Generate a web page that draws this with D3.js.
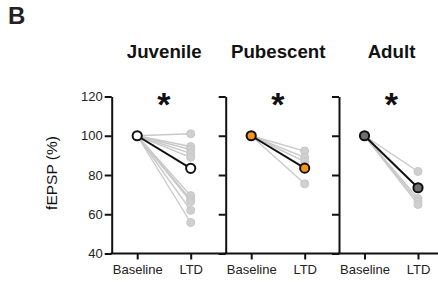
<!DOCTYPE html>
<html>
<head>
<meta charset="utf-8">
<script src="https://cdn.jsdelivr.net/npm/d3@7"></script>
<style>
  html, body { margin: 0; padding: 0; background: #fff; }
  svg { display: block; font-family: "Liberation Sans", Arial, Helvetica, sans-serif; }
</style>
</head>
<body>
<svg id="chart" width="438" height="291"></svg>
<script>
// ---- data ----
const groups = ["Juvenile", "Pubescent", "Adult"];
const conditions = ["Baseline", "LTD"];
const yTicks = [40, 60, 80, 100, 120];
const juvenileLTD = [101, 94.5, 93, 91, 89, 69.5, 67.5, 66.5, 62, 55.8];
const pubescentLTD = [92.2, 89, 86.8, 75.5];
const adultLTD = [81.8, 68, 66.5, 65];
const baselineValues = [100, 100, 100];
const meanLTD = [83.4, 83.5, 73.5];
const significance = ["*", "*", "*"];

const individual = [juvenileLTD, pubescentLTD, adultLTD];
const meanFill = ["#ffffff", "#F7941E", "#707070"];

const svg = d3.select("#chart");

// panel letter
svg.append("text").attr("x", 8).attr("y", 23.5)
  .attr("font-size", 24).attr("font-weight", "bold").attr("fill", "#222").text("B");

const y = d3.scaleLinear().domain([40, 120]).range([253.5, 96.5]);
const panelX = [111.7, 225.7, 339];
const panelW = 114;

// y axis title
svg.append("text")
  .attr("transform", `translate(57,173) rotate(-90)`)
  .attr("text-anchor", "middle").attr("font-size", 15.5).attr("fill", "#111")
  .text("fEPSP (%)");

groups.forEach((g, i) => {
  const x0 = panelX[i];
  const x = d3.scalePoint().domain(conditions).range([x0 + 25.5, x0 + 79]);
  const gp = svg.append("g");

  // title
  gp.append("text").attr("x", x0 + 52.5).attr("y", 58)
    .attr("text-anchor", "middle").attr("font-size", 18.7).attr("font-weight", "bold")
    .attr("fill", "#111").text(g);

  // y axis
  const ya = d3.axisLeft(y).tickValues(yTicks).tickSize(7).tickPadding(2).tickSizeOuter(0);
  if (i > 0) ya.tickFormat("");
  const yg = gp.append("g").attr("transform", `translate(${x0},0)`).call(ya);
  yg.select(".domain").attr("stroke-width", 2).attr("stroke", "#111");
  yg.selectAll(".tick line").attr("stroke-width", 2).attr("stroke", "#111");
  yg.selectAll("text").attr("font-size", 13).attr("fill", "#222")
    .attr("font-family", "'Liberation Sans', Arial, sans-serif");

  // x axis
  const xa = d3.axisBottom(x).tickSize(6).tickPadding(5.5).tickSizeOuter(0);
  const xg = gp.append("g").attr("transform", `translate(0,${y(40)})`).call(xa);
  xg.select(".domain").remove();
  xg.selectAll(".tick line").attr("stroke-width", 2).attr("stroke", "#111");
  xg.selectAll("text").attr("font-size", 13).attr("fill", "#222")
    .attr("font-family", "'Liberation Sans', Arial, sans-serif");
  gp.append("line").attr("x1", x0 - 1).attr("x2", Math.min(x0 + panelW, 440))
    .attr("y1", y(40)).attr("y2", y(40)).attr("stroke", "#111").attr("stroke-width", 2);

  // individual lines
  individual[i].forEach(v => {
    gp.append("line")
      .attr("x1", x("Baseline")).attr("y1", y(baselineValues[i]))
      .attr("x2", x("LTD")).attr("y2", y(v))
      .attr("stroke", "#c9c9c9").attr("stroke-width", 1.4);
  });
  individual[i].forEach(v => {
    gp.append("circle").attr("cx", x("LTD")).attr("cy", y(v)).attr("r", 4)
      .attr("fill", "#d0d0d0").attr("stroke", "#c6c6c6").attr("stroke-width", 1);
  });

  // mean line
  gp.append("line")
    .attr("x1", x("Baseline")).attr("y1", y(baselineValues[i]))
    .attr("x2", x("LTD")).attr("y2", y(meanLTD[i]))
    .attr("stroke", "#111").attr("stroke-width", 2);
  [[conditions[0], baselineValues[i]], [conditions[1], meanLTD[i]]].forEach(([c, v]) => {
    gp.append("circle").attr("cx", x(c)).attr("cy", y(v)).attr("r", 4.6)
      .attr("fill", meanFill[i]).attr("stroke", "#111").attr("stroke-width", 2);
  });

  // significance star
  gp.append("text").attr("x", (x("Baseline") + x("LTD")) / 2).attr("y", 116)
    .attr("text-anchor", "middle").attr("font-size", 34).attr("font-weight", "bold")
    .attr("fill", "#111").text(significance[i]);
});
</script>
</body>
</html>
